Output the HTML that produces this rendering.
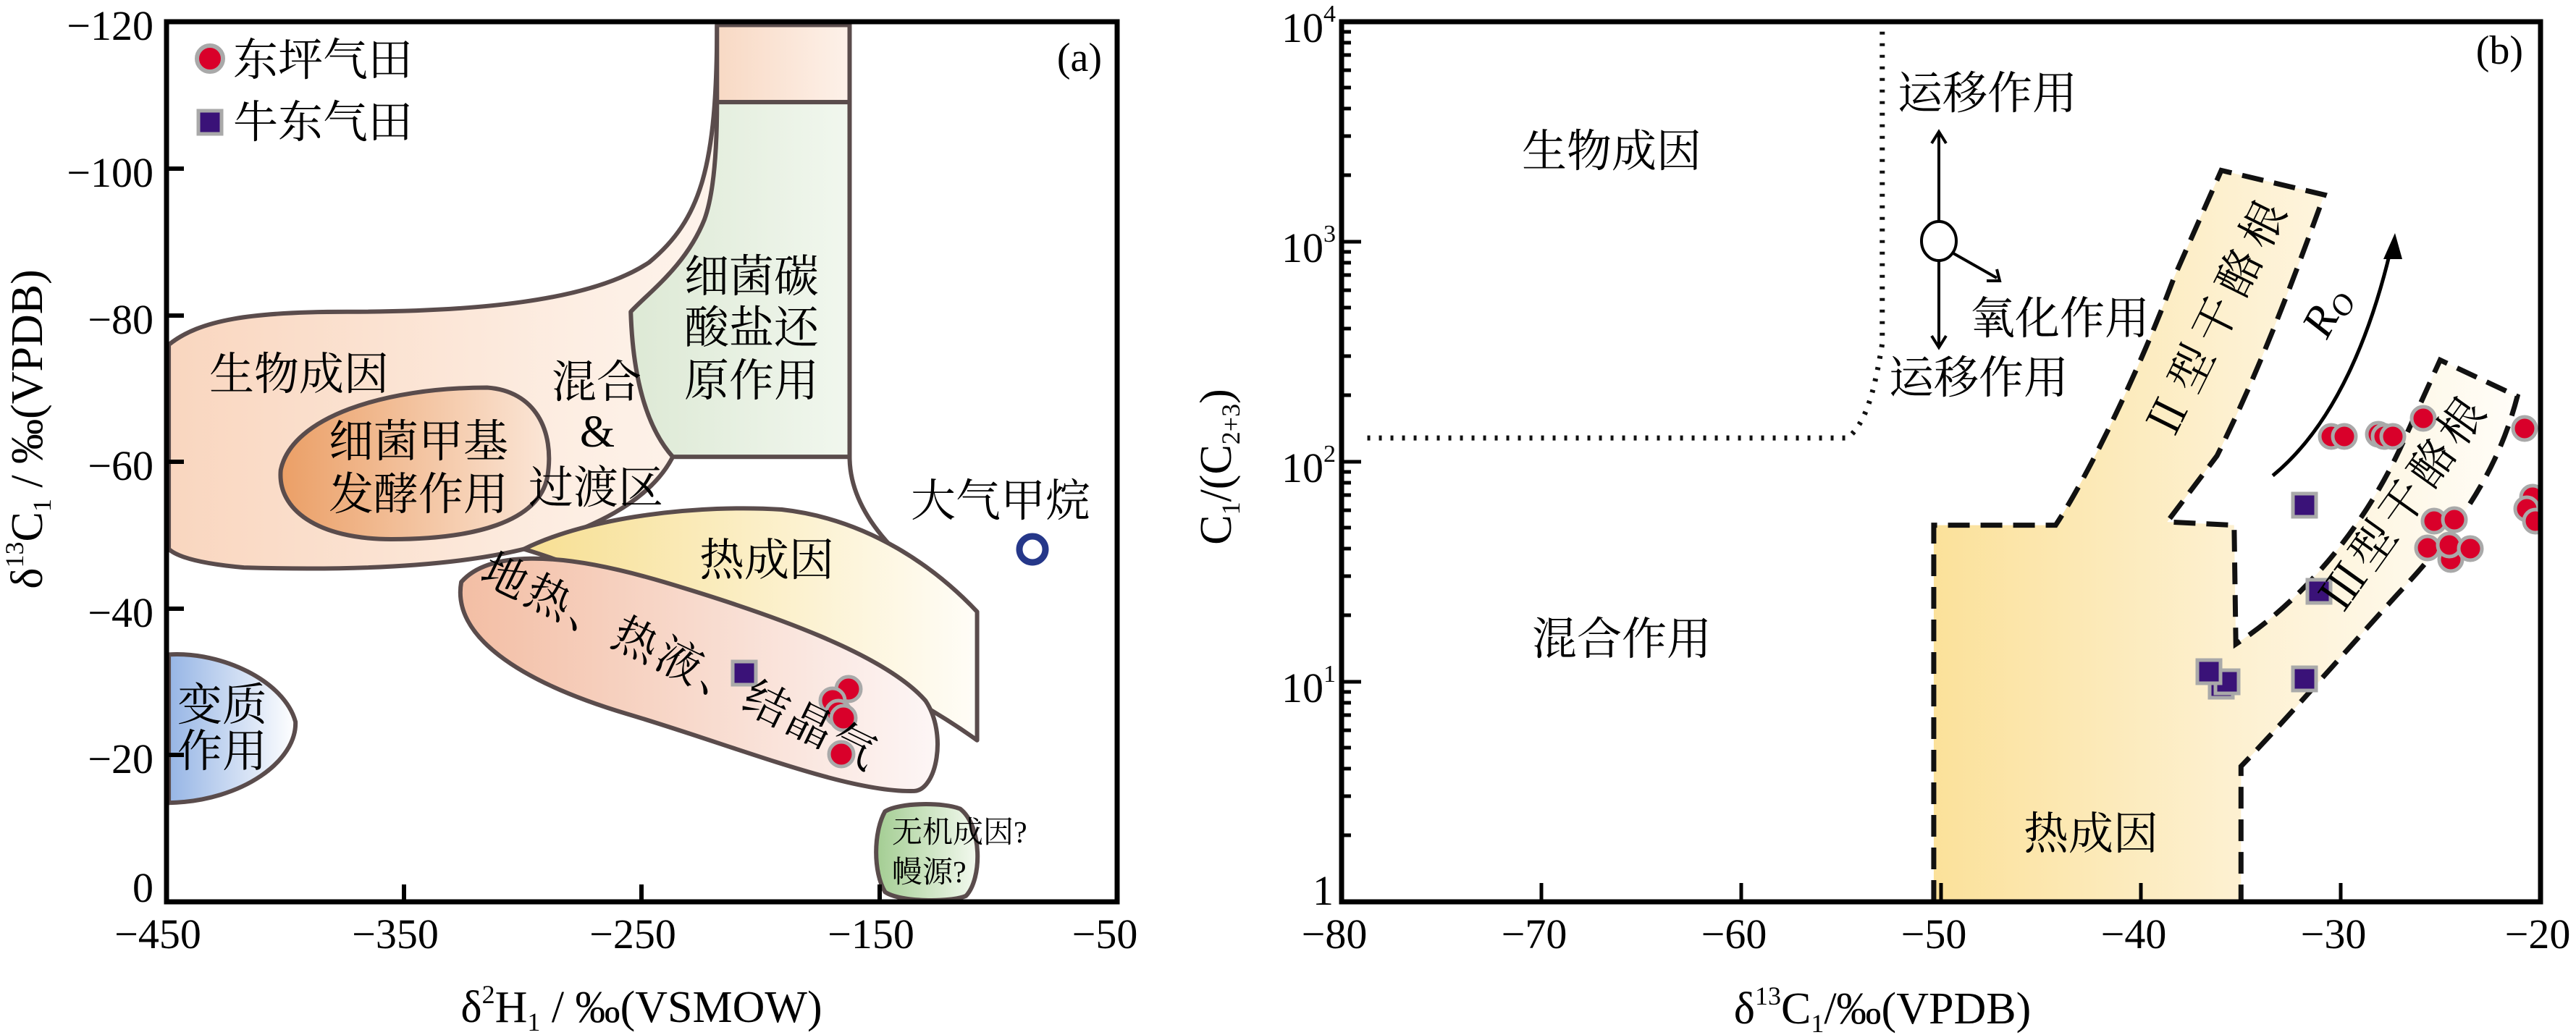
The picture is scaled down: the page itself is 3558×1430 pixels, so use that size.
<!DOCTYPE html>
<html><head><meta charset="utf-8"><style>
html,body{margin:0;padding:0;background:#fff}
svg{display:block}
text{font-family:"Liberation Serif","Noto Serif CJK SC",serif;fill:#000}
</style></head><body>
<svg width="3558" height="1430" viewBox="0 0 3558 1430" xmlns="http://www.w3.org/2000/svg">
<defs>
<linearGradient id="gEnv" x1="0" x2="1" y1="0" y2="0"><stop offset="0" stop-color="#f9d6bf"/><stop offset="0.6" stop-color="#fdeee3"/><stop offset="1" stop-color="#fef8f3"/></linearGradient>
<linearGradient id="gBio" x1="0" x2="1"><stop offset="0" stop-color="#eb9f66"/><stop offset="1" stop-color="#fbe6d7"/></linearGradient>
<linearGradient id="gTh" x1="0" x2="1"><stop offset="0" stop-color="#f7df92"/><stop offset="1" stop-color="#fffdf7"/></linearGradient>
<linearGradient id="gGeo" x1="0" x2="1"><stop offset="0" stop-color="#f3bea4"/><stop offset="1" stop-color="#fdf6f6"/></linearGradient>
<linearGradient id="gMet" x1="0" x2="1"><stop offset="0" stop-color="#96b5e5"/><stop offset="1" stop-color="#ffffff"/></linearGradient>
<linearGradient id="gGr" x1="0" x2="1"><stop offset="0" stop-color="#dde9d5"/><stop offset="1" stop-color="#f1f7ee"/></linearGradient>
<linearGradient id="gTop" x1="0" x2="1"><stop offset="0" stop-color="#f8d9c4"/><stop offset="1" stop-color="#fdf1e9"/></linearGradient>
<linearGradient id="gInorg" x1="0" x2="1"><stop offset="0" stop-color="#a3cd92"/><stop offset="1" stop-color="#f3f9ef"/></linearGradient>
<linearGradient id="gB" gradientUnits="userSpaceOnUse" x1="820" x2="1500" y1="0" y2="0"><stop offset="0" stop-color="#fbe19a"/><stop offset="0.5" stop-color="#fdf0cf"/><stop offset="1" stop-color="#fffdf8"/></linearGradient>
<clipPath id="clipB"><rect x="1856" y="33" width="1650" height="1210"/></clipPath>
</defs>

<!-- ================= PANEL A ================= -->
<g transform="translate(230,30) scale(1.0178,0.9108) translate(-225,-30)" stroke="#5a4c4c" stroke-width="6" stroke-linejoin="round">
  <path vector-effect="non-scaling-stroke" fill="url(#gEnv)" d="M228,520 C270,482 340,470 470,470 C640,470 800,455 880,395 C950,330 972,250 972,35 L1152,35 L1152,690 L912,690 C880,760 800,800 710,830 C600,860 450,862 330,858 C270,852 240,842 228,830 Z"/>
  <path vector-effect="non-scaling-stroke" fill="url(#gTop)" d="M972,35 L1152,35 L1152,152 L972,152 Z"/>
  <path vector-effect="non-scaling-stroke" fill="url(#gGr)" d="M912,690 C880,650 858,580 855,470 C880,440 930,400 955,330 C968,290 972,220 972,152 L1152,152 L1152,690 Z"/>
  <path vector-effect="non-scaling-stroke" fill="none" d="M1152,690 C1152,770 1210,850 1325,925"/>
  <path vector-effect="non-scaling-stroke" fill="url(#gBio)" d="M380,710 C395,630 520,585 660,585 C725,590 752,650 742,720 C730,790 640,815 530,815 C430,815 375,770 380,710 Z"/>
  <path vector-effect="non-scaling-stroke" fill="url(#gTh)" d="M710,830 C800,780 950,762 1060,770 C1180,785 1270,860 1325,925 L1325,1120 C1250,1060 1150,1000 1000,950 C900,915 800,860 710,830 Z"/>
  <path vector-effect="non-scaling-stroke" fill="url(#gGeo)" d="M625,880 C660,835 750,830 900,880 C1050,930 1200,990 1255,1060 C1285,1110 1270,1195 1240,1197 C1150,1200 1000,1130 850,1080 C700,1030 612,960 625,880 Z"/>
  <path vector-effect="non-scaling-stroke" fill="url(#gMet)" d="M228,990 C300,985 385,1030 400,1092 C402,1150 330,1212 228,1215 Z"/>
  <path vector-effect="non-scaling-stroke" fill="url(#gInorg)" d="M1200,1228 C1220,1214 1280,1214 1302,1224 C1332,1250 1332,1330 1310,1356 C1290,1366 1220,1366 1200,1350 C1184,1320 1184,1260 1200,1228 Z"/>
</g>
<!-- frame a -->
<rect x="230" y="30" width="1313" height="1216" fill="none" stroke="#000" stroke-width="7"/>
<g stroke="#000" stroke-width="6">
  <line x1="230" y1="233" x2="254" y2="233"/><line x1="230" y1="436" x2="254" y2="436"/>
  <line x1="230" y1="638" x2="254" y2="638"/><line x1="230" y1="841" x2="254" y2="841"/>
  <line x1="230" y1="1043" x2="254" y2="1043"/>
  <line x1="558" y1="1246" x2="558" y2="1222"/><line x1="886" y1="1246" x2="886" y2="1222"/>
  <line x1="1215" y1="1246" x2="1215" y2="1222"/>
</g>
<!-- atmospheric methane -->
<circle cx="1426" cy="759" r="18" fill="#fff" stroke="#253789" stroke-width="9"/>
<!-- points a -->
<g fill="#d9002a" stroke="#a9a9a9" stroke-width="5">
  <circle cx="1172" cy="952" r="17"/><circle cx="1150" cy="968" r="17"/>
  <circle cx="1158" cy="985" r="17"/><circle cx="1165" cy="992" r="17"/>
  <circle cx="1162" cy="1042" r="17"/>
</g>
<rect x="1012" y="914" width="32" height="32" fill="#3a1278" stroke="#a9a9a9" stroke-width="5"/>
<!-- legend -->
<circle cx="290" cy="81" r="18" fill="#d9002a" stroke="#a9a9a9" stroke-width="6"/>
<rect x="274" y="153" width="32" height="32" fill="#3a1278" stroke="#a9a9a9" stroke-width="5"/>
<g font-size="62">
  <text x="322" y="104">东坪气田</text>
  <text x="322" y="190">牛东气田</text>
  <text x="1522" y="98" text-anchor="end" font-size="56">(a)</text>
  <text x="289" y="538">生物成因</text>
  <text x="454" y="631">细菌甲基</text>
  <text x="454" y="704">发酵作用</text>
  <text x="762" y="549">混合</text>
  <text x="825" y="617" text-anchor="middle">&amp;</text>
  <text x="730" y="695">过渡区</text>
  <text x="945" y="403">细菌碳</text>
  <text x="945" y="474">酸盐还</text>
  <text x="945" y="547">原作用</text>
  <text x="1258" y="713">大气甲烷</text>
  <text x="966" y="795">热成因</text>
  <text x="245" y="995">变质</text>
  <text x="245" y="1059">作用</text>
  <text transform="translate(940,916) rotate(26)" text-anchor="middle" dominant-baseline="central" letter-spacing="5">地热、热液、结晶气</text>
  <text x="1232" y="1164" font-size="42">无机成因?</text>
  <text x="1232" y="1219" font-size="42">幔源?</text>
</g>
<!-- axis labels a -->
<g font-size="58" text-anchor="end">
  <text x="212" y="55">−120</text><text x="212" y="258">−100</text>
  <text x="212" y="461">−80</text><text x="212" y="663">−60</text>
  <text x="212" y="866">−40</text><text x="212" y="1068">−20</text>
  <text x="212" y="1246">0</text>
</g>
<g font-size="58" text-anchor="middle">
  <text x="218" y="1310">−450</text><text x="546" y="1310">−350</text>
  <text x="874" y="1310">−250</text><text x="1203" y="1310">−150</text>
  <text x="1526" y="1310">−50</text>
</g>
<text x="886" y="1412" font-size="62" text-anchor="middle">δ<tspan font-size="36" dy="-26">2</tspan><tspan dy="26">H</tspan><tspan font-size="36" dy="12">1</tspan><tspan dy="-12"> / ‰(VSMOW)</tspan></text>
<text transform="translate(58,593) rotate(-90)" font-size="62" text-anchor="middle">δ<tspan font-size="36" dy="-26">13</tspan><tspan dy="26">C</tspan><tspan font-size="36" dy="12">1</tspan><tspan dy="-12"> / ‰(VPDB)</tspan></text>

<!-- ================= PANEL B ================= -->
<g transform="translate(1853,30) scale(1.1854,0.9129) translate(-130,-33)">
  <path vector-effect="non-scaling-stroke" fill="url(#gB)" stroke="#111" stroke-width="7" stroke-dasharray="30 15" d="M820,1365 L820,795 L962,795 C1000,720 1060,560 1100,420 L1155,258 L1275,295 C1240,420 1200,560 1150,690 L1092,790 L1170,795 L1172,975 C1260,900 1330,780 1370,660 L1410,545 L1500,600 C1480,700 1440,790 1360,900 C1290,1000 1230,1090 1178,1160 L1178,1365"/>
  <path vector-effect="non-scaling-stroke" fill="none" stroke="#111" stroke-width="7" stroke-dasharray="4 12" d="M160,663 L720,663 C740,640 750,600 760,520 L760,38"/>
  <path vector-effect="non-scaling-stroke" fill="none" stroke="#000" stroke-width="5" d="M1215,720 C1290,640 1330,500 1352,380"/>
</g>
<!-- Ro arrowhead -->
<polygon points="3308,322 3292,358 3318,358" fill="#000"/>
<text transform="translate(3230,440) rotate(-62)" font-size="62" font-style="italic" text-anchor="middle">R<tspan font-size="42" dy="10">O</tspan></text>
<!-- migration/oxidation arrows -->
<g stroke="#000" stroke-width="4" fill="none">
  <line x1="2678" y1="306" x2="2678" y2="185"/>
  <line x1="2678" y1="360" x2="2678" y2="476"/>
  <line x1="2698" y1="350" x2="2758" y2="384"/>
  <polyline points="2668,198 2678,182 2688,198"/>
  <polyline points="2668,464 2678,480 2688,464"/>
  <polyline points="2744,388 2762,388 2758,372"/>
</g>
<ellipse cx="2678" cy="333" rx="24" ry="27" fill="#fff" stroke="#000" stroke-width="4"/>
<!-- points b -->
<g clip-path="url(#clipB)">
<g fill="#d9002a" stroke="#a9a9a9" stroke-width="5">
  <circle cx="3220" cy="603" r="16"/><circle cx="3238" cy="603" r="16"/>
  <circle cx="3285" cy="600" r="16"/><circle cx="3293" cy="603" r="16"/><circle cx="3305" cy="603" r="16"/>
  <circle cx="3347" cy="578" r="16"/><circle cx="3487" cy="592" r="16"/>
  <circle cx="3498" cy="687" r="16"/><circle cx="3490" cy="703" r="16"/><circle cx="3502" cy="720" r="16"/>
  <circle cx="3362" cy="720" r="16"/><circle cx="3390" cy="718" r="16"/>
  <circle cx="3385" cy="773" r="16"/><circle cx="3353" cy="757" r="16"/>
  <circle cx="3383" cy="753" r="16"/><circle cx="3412" cy="758" r="16"/>
</g>
<g fill="#3a1278" stroke="#a9a9a9" stroke-width="5">
  <rect x="3167" y="682" width="32" height="32"/><rect x="3187" y="801" width="32" height="32"/>
  <rect x="3167" y="922" width="32" height="32"/>
  <rect x="3052" y="932" width="32" height="32"/><rect x="3060" y="926" width="32" height="32"/>
  <rect x="3035" y="912" width="32" height="32"/>
</g>
</g>
<!-- frame b -->
<rect x="1853" y="30" width="1656" height="1216" fill="none" stroke="#000" stroke-width="7"/>
<g stroke="#000" stroke-width="5">
  <line x1="1853" y1="334" x2="1880" y2="334"/><line x1="1853" y1="638" x2="1880" y2="638"/><line x1="1853" y1="942" x2="1880" y2="942"/>
  <path d="M1853,1154h13M1853,1100h13M1853,1062h13M1853,1033h13M1853,1009h13M1853,988h13M1853,971h13M1853,956h13
           M1853,850h13M1853,796h13M1853,758h13M1853,729h13M1853,705h13M1853,684h13M1853,667h13M1853,652h13
           M1853,546h13M1853,492h13M1853,454h13M1853,425h13M1853,401h13M1853,380h13M1853,363h13M1853,348h13
           M1853,242h13M1853,188h13M1853,150h13M1853,121h13M1853,97h13M1853,76h13M1853,59h13M1853,44h13"/>
  <line x1="2129" y1="1246" x2="2129" y2="1220"/><line x1="2405" y1="1246" x2="2405" y2="1220"/>
  <line x1="2681" y1="1246" x2="2681" y2="1220"/><line x1="2957" y1="1246" x2="2957" y2="1220"/>
  <line x1="3233" y1="1246" x2="3233" y2="1220"/>
</g>
<g font-size="62">
  <text x="2102" y="230">生物成因</text>
  <text x="2116" y="904">混合作用</text>
  <text x="2795" y="1173">热成因</text>
  <text x="2621" y="150">运移作用</text>
  <text x="2721" y="461">氧化作用</text>
  <text x="2609" y="543">运移作用</text>
  <text x="3485" y="88" text-anchor="end" font-size="56">(b)</text>
  <text transform="translate(3064,438) rotate(-63.6)" text-anchor="middle" dominant-baseline="central" letter-spacing="12">Ⅱ型干酪根</text>
  <text transform="translate(3322,694) rotate(-54.5)" text-anchor="middle" dominant-baseline="central" letter-spacing="8">Ⅲ型干酪根</text>
</g>
<g font-size="58" text-anchor="end">
  <text x="1845" y="58">10<tspan font-size="34" dy="-28">4</tspan></text>
  <text x="1845" y="362">10<tspan font-size="34" dy="-28">3</tspan></text>
  <text x="1845" y="666">10<tspan font-size="34" dy="-28">2</tspan></text>
  <text x="1845" y="970">10<tspan font-size="34" dy="-28">1</tspan></text>
  <text x="1842" y="1250">1</text>
</g>
<g font-size="58" text-anchor="middle">
  <text x="1843" y="1310">−80</text><text x="2119" y="1310">−70</text>
  <text x="2395" y="1310">−60</text><text x="2671" y="1310">−50</text>
  <text x="2947" y="1310">−40</text><text x="3223" y="1310">−30</text>
  <text x="3505" y="1310">−20</text>
</g>
<text x="2600" y="1414" font-size="62" text-anchor="middle">δ<tspan font-size="36" dy="-26">13</tspan><tspan dy="26">C</tspan><tspan font-size="36" dy="12">1</tspan><tspan dy="-12">/‰(VPDB)</tspan></text>
<text transform="translate(1700,645) rotate(-90)" font-size="62" text-anchor="middle">C<tspan font-size="36" dy="12">1</tspan><tspan dy="-12">/(C</tspan><tspan font-size="36" dy="12">2+3</tspan><tspan dy="-12">)</tspan></text>
</svg>
</body></html>
